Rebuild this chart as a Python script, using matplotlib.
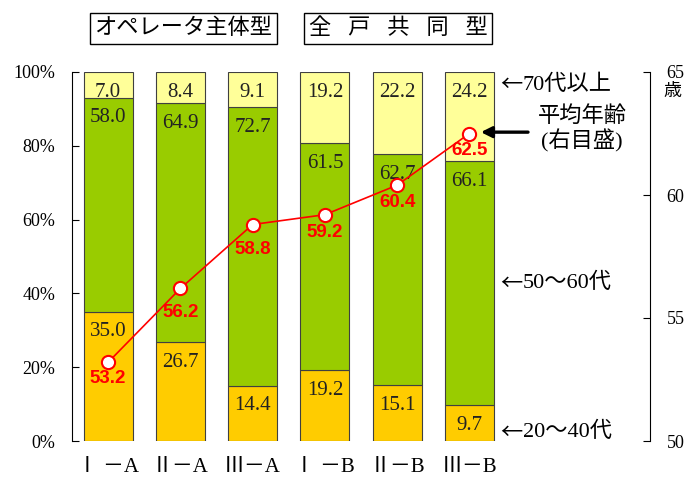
import numpy as np
import matplotlib.pyplot as plt

plt.rcParams['font.family'] = ['Liberation Serif', 'Noto Sans CJK JP']

# データ
groups = ['Ⅰ －A', 'Ⅱ－A', 'Ⅲ－A', 'Ⅰ －B', 'Ⅱ－B', 'Ⅲ－B']
age_20_40 = [35.0, 26.7, 14.4, 19.2, 15.1, 9.7]
age_50_60 = [58.0, 64.9, 72.7, 61.5, 62.7, 66.1]
age_70 = [7.0, 8.4, 9.1, 19.2, 22.2, 24.2]
mean_age = [53.2, 56.2, 58.8, 59.2, 60.4, 62.5]

x = np.arange(len(groups))
raw = np.array([age_20_40, age_50_60, age_70])
pct = raw / raw.sum(axis=0) * 100   # 100%積み上げ
low, mid, top = pct

fig = plt.figure(figsize=(6.89, 4.79), dpi=100)
ax = fig.add_axes([72 / 689, 1 - 441 / 479, 578 / 689, 369 / 479])

w = 0.675
ec = '#404040'
ax.bar(x, low, w, color='#FFCC00', edgecolor=ec, lw=0.8)
ax.bar(x, mid, w, bottom=low, color='#99CC00', edgecolor=ec, lw=0.8)
ax.bar(x, top, w, bottom=low + mid, color='#FFFF99', edgecolor=ec, lw=0.8)

# 棒の中の数値（各区間の上端から少し下）
for vals, tops in [(raw[0], low), (raw[1], low + mid), (raw[2], low + mid + top)]:
    for xi, v, t in zip(x, vals, tops):
        ax.annotate(f'{v:.1f}', xy=(xi, t), xytext=(0, -14.5),
                    textcoords='offset points', ha='center', va='center',
                    fontsize=15, color='#222222')

ax.set_xlim(-0.5, 7.5)
ax.set_ylim(0, 100)
ax.set_yticks(range(0, 101, 20))
ax.set_yticklabels([f'{v}%' for v in range(0, 101, 20)])
ax.set_xticks(x)
ax.set_xticklabels(groups, fontsize=15)
ax.tick_params(axis='y', direction='in', length=5, pad=12, labelsize=13)
ax.tick_params(axis='x', length=0, pad=12)
for s in ['top', 'bottom', 'right']:
    ax.spines[s].set_visible(False)

# 平均年齢（右目盛）
ax2 = ax.twinx()
ax2.plot(x, mean_age, color='red', lw=1.2, marker='o', ms=9.5,
         mfc='white', mec='red', mew=1.5, zorder=5)
ax2.set_ylim(50, 65)
ax2.set_yticks([50, 55, 60, 65])
ax2.tick_params(axis='y', direction='in', length=5, pad=12, labelsize=13)
for s in ['top', 'bottom', 'left']:
    ax2.spines[s].set_visible(False)

offs = [-11.5, -17.5, -18, -12.5, -12.5, -12.5]
for xi, v, o in zip(x, mean_age, offs):
    ax2.annotate(f'{v:.1f}', xy=(xi, v), xytext=(0, o), textcoords='offset points',
                 ha='center', va='center', fontsize=13.5, fontweight='bold',
                 color='red', family='Liberation Sans')

ax2.annotate('歳', xy=(1, 65), xycoords=ax2.get_yaxis_transform(),
             xytext=(16, -14), textcoords='offset points',
             ha='center', va='center', fontsize=13)


# 凡例がわりの注記（矢印は全角の字形で）
def label_arrow(y, s):
    ax.text(5.43, y, '←', fontsize=16, ha='left', va='center',
            family='Noto Sans CJK JP')
    ax.annotate(s, xy=(5.43, y), xytext=(16, 0), textcoords='offset points',
                fontsize=16, ha='left', va='center')


label_arrow(96.5, '70代以上')
label_arrow(42.8, '50～60代')
label_arrow(2.4, '20～40代')
ax.text(6.56, 87.8, '平均年齢', fontsize=16, ha='center', va='center')
ax.text(6.56, 81.3, '(右目盛)', fontsize=16, ha='center', va='center')
ax.annotate('', xy=(5.12, 83.7), xytext=(5.85, 83.7),
            arrowprops=dict(arrowstyle='-|>', color='black', lw=2.4,
                            mutation_scale=16))

# 上部の見出し
box = dict(boxstyle='square,pad=0.22', fc='white', ec='black', lw=1)
fig.text(183.5 / 689, 1 - 28.5 / 479, 'オペレータ主体型', fontsize=16,
         ha='center', va='center', bbox=box)
fig.text(398 / 689, 1 - 28.5 / 479, '全   戸   共   同   型', fontsize=16,
         ha='center', va='center', bbox=box)

fig.savefig('out.png', dpi=100)
